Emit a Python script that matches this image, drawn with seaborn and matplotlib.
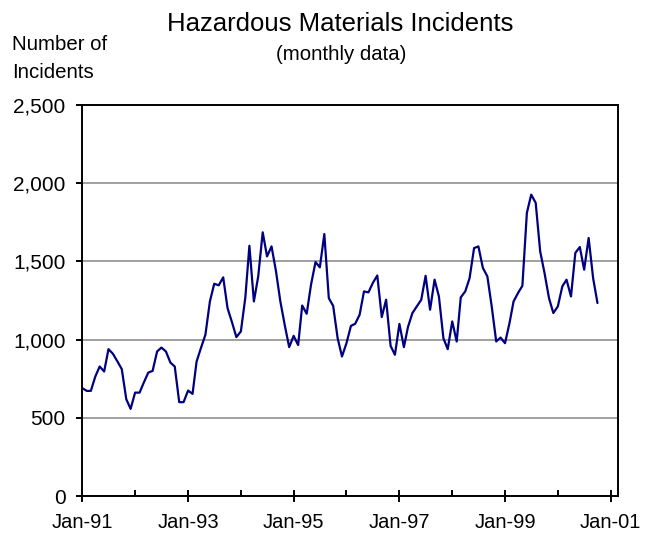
import matplotlib
matplotlib.use("Agg")
import matplotlib.pyplot as plt
import matplotlib.dates as mdates
import matplotlib.ticker as mticker
import seaborn as sns
import pandas as pd
import datetime as dt

# ---- data (Jan-1991 .. Oct-2000, monthly) ----
start_month = "1991-01-01"
incidents = [
    690, 672, 672, 764, 828, 796, 939, 909, 860, 811, 619, 557,        # 1991
    661, 661, 725, 789, 800, 924, 949, 924, 853, 828, 600, 600,        # 1992
    674, 653, 860, 949, 1031, 1244, 1357, 1347, 1398, 1201, 1110, 1016,  # 1993
    1052, 1270, 1600, 1244, 1404, 1686, 1532, 1596, 1436, 1244, 1090, 952,  # 1994
    1024, 965, 1218, 1165, 1351, 1496, 1462, 1675, 1265, 1216, 1009, 892,  # 1995
    977, 1088, 1101, 1159, 1308, 1302, 1362, 1410, 1144, 1255, 960, 903,  # 1996
    1100, 952, 1080, 1170, 1212, 1255, 1408, 1191, 1383, 1276, 1009, 939,  # 1997
    1116, 988, 1270, 1308, 1393, 1585, 1596, 1458, 1404, 1212, 988, 1013,  # 1998
    977, 1106, 1244, 1298, 1344, 1810, 1927, 1874, 1564, 1426, 1265, 1170,  # 1999
    1212, 1340, 1383, 1276, 1554, 1592, 1447, 1650, 1393, 1234,          # 2000
]
y_ticks = [0, 500, 1000, 1500, 2000, 2500]
x_major_years = [1991, 1993, 1995, 1997, 1999, 2001]
x_minor_years = [1992, 1994, 1996, 1998, 2000]
title = "Hazardous Materials Incidents"
subtitle = "(monthly data)"
y_label_lines = ["Number of", "Incidents"]

df = pd.DataFrame({
    "date": pd.date_range(start_month, periods=len(incidents), freq="MS"),
    "incidents": incidents,
})

sns.set_theme(style="white")
plt.rcParams["font.family"] = ["Liberation Sans", "DejaVu Sans"]
plt.rcParams["text.color"] = "black"
plt.rcParams["xtick.color"] = "black"
plt.rcParams["ytick.color"] = "black"

fig = plt.figure(figsize=(6.45, 5.37), dpi=100)
ax = fig.add_axes([82.3 / 645, (537 - 496) / 537, (618.3 - 82.3) / 645, (496 - 105) / 537])

sns.lineplot(data=df, x="date", y="incidents", ax=ax, color="#000080", linewidth=1.6)

ax.set_xlim(dt.datetime(1991, 1, 1), dt.datetime(2001, 2, 22))
ax.set_ylim(0, 2500)
ax.set_yticks(y_ticks)
ax.yaxis.set_major_formatter(mticker.FuncFormatter(lambda v, p: f"{int(v):,}"))

ax.xaxis.set_major_locator(mticker.FixedLocator(
    [mdates.date2num(dt.datetime(y, 1, 1)) for y in x_major_years]))
ax.xaxis.set_minor_locator(mticker.FixedLocator(
    [mdates.date2num(dt.datetime(y, 1, 1)) for y in x_minor_years]))
ax.xaxis.set_major_formatter(mdates.DateFormatter("%b-%y"))

ax.set_xlabel("")
ax.set_ylabel("")

ax.grid(axis="y", color="#a0a0a0", linewidth=1.4)
ax.grid(axis="x", visible=False)
ax.set_axisbelow(True)

for side, sp in ax.spines.items():
    sp.set_visible(True)
    sp.set_color("black")
    sp.set_linewidth(1.4)

ax.tick_params(axis="x", which="major", direction="inout", length=8, width=1.4,
               color="black", labelcolor="black", labelsize=14.5, pad=8, bottom=True)
ax.tick_params(axis="x", which="minor", direction="in", length=4, width=1.4,
               color="black", bottom=True)
ax.tick_params(axis="y", which="major", direction="out", length=4, width=1.4,
               color="black", labelcolor="black", labelsize=15, pad=8, left=True)

fig.text(340 / 645, 1 - 24 / 537, title, ha="center", va="center", fontsize=18.5)
fig.text(341 / 645, 1 - 54 / 537, subtitle, ha="center", va="center", fontsize=14.7)
fig.text(12 / 645, 1 - 45 / 537, y_label_lines[0], ha="left", va="center", fontsize=14.7)
fig.text(12 / 645, 1 - 73 / 537, y_label_lines[1], ha="left", va="center", fontsize=14.7)

fig.savefig("out.png", dpi=100)
